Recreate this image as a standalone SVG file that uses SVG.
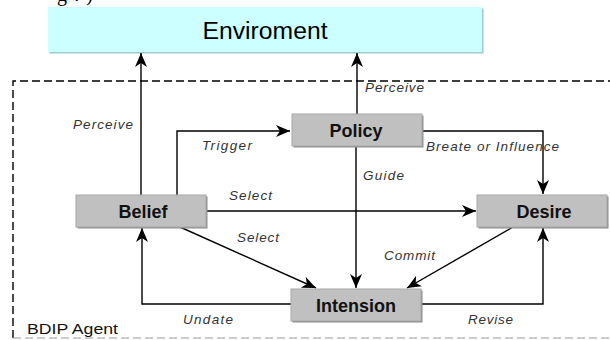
<svg xmlns="http://www.w3.org/2000/svg" width="610" height="340" viewBox="0 0 610 340">
<style>
.box{fill:#c0c0c0;stroke:#a8a8a8;stroke-width:1}
.shadow{fill:#8c8c8c}
.title{font-family:"Liberation Sans",Arial,sans-serif;font-size:18px;font-weight:bold;fill:#111;text-anchor:middle}
.lbl{font-family:"Liberation Sans",Arial,sans-serif;font-size:13.5px;font-style:italic;fill:#333}
.edge{fill:none;stroke:#000;stroke-width:1.4}
</style>
<defs>
<marker id="ah" markerUnits="userSpaceOnUse" markerWidth="16" markerHeight="14" refX="14" refY="6" orient="auto">
<path d="M0,0 L14,6 L0,12 L4,6 Z" fill="#000"/>
</marker>
</defs>
<rect width="610" height="340" fill="#fff"/>
<text x="57" y="1" font-family="Liberation Serif,serif" font-size="20" textLength="36" lengthAdjust="spacing" fill="#000">g.)</text>
<g id="agent">
<path d="M13,338 V81 H612" fill="none" stroke="#000" stroke-width="1.4" stroke-dasharray="8,4"/>
<path d="M13,338 H612" fill="none" stroke="#999" stroke-width="1.2" stroke-dasharray="8,4"/>
<text x="27" y="334" font-family="Liberation Sans,Arial,sans-serif" font-size="14" textLength="91" lengthAdjust="spacingAndGlyphs" fill="#111">BDIP Agent</text>
</g>
<g id="environment">
<rect x="49.5" y="8.5" width="434" height="45" fill="#99cccc"/>
<rect x="48" y="7" width="434" height="45" fill="#ccffff"/>
<text x="265" y="39" font-family="Liberation Sans,Arial,sans-serif" font-size="23" text-anchor="middle" fill="#000" textLength="125" lengthAdjust="spacingAndGlyphs">Enviroment</text>
</g>
<g id="connectors">
<path class="edge" d="M141,195 V53" marker-end="url(#ah)"/>
<path class="edge" d="M357,114 V53" marker-end="url(#ah)"/>
<path class="edge" d="M177,195 V131 H290" marker-end="url(#ah)"/>
<path class="edge" d="M422,131 H543 V194" marker-end="url(#ah)"/>
<path class="edge" d="M356,146 V288" marker-end="url(#ah)"/>
<path class="edge" d="M207,211 H476" marker-end="url(#ah)"/>
<path class="edge" d="M180,227 L316,288" marker-end="url(#ah)"/>
<path class="edge" d="M513,227 L407,288" marker-end="url(#ah)"/>
<path class="edge" d="M291,304 H142 V228" marker-end="url(#ah)"/>
<path class="edge" d="M422,304 H543 V228" marker-end="url(#ah)"/>
<text class="lbl" x="73" y="129" textLength="60" lengthAdjust="spacing">Perceive</text>
<text class="lbl" x="365" y="92" textLength="59" lengthAdjust="spacing">Perceive</text>
<text class="lbl" x="202" y="150" textLength="50" lengthAdjust="spacing">Trigger</text>
<text class="lbl" x="426" y="151" textLength="133" lengthAdjust="spacing">Breate or Influence</text>
<text class="lbl" x="363" y="180" textLength="41" lengthAdjust="spacing">Guide</text>
<text class="lbl" x="229" y="200" textLength="43" lengthAdjust="spacing">Select</text>
<text class="lbl" x="237" y="242" textLength="42" lengthAdjust="spacing">Select</text>
<text class="lbl" x="384" y="260" textLength="51" lengthAdjust="spacing">Commit</text>
<text class="lbl" x="183" y="324" textLength="50" lengthAdjust="spacing">Undate</text>
<text class="lbl" x="468" y="324" textLength="45" lengthAdjust="spacing">Revise</text>
</g>
<g id="policy">
<rect class="shadow" x="293.5" y="115.5" width="130" height="32"/>
<rect class="box" x="292" y="114" width="130" height="32"/>
<text class="title" x="356" y="137">Policy</text>
</g>
<g id="belief">
<rect class="shadow" x="77.5" y="196.5" width="130" height="32"/>
<rect class="box" x="76" y="195" width="130" height="32"/>
<text class="title" x="143" y="218">Belief</text>
</g>
<g id="desire">
<rect class="shadow" x="478.5" y="196.5" width="130" height="32"/>
<rect class="box" x="477" y="195" width="130" height="32"/>
<text class="title" x="544" y="218">Desire</text>
</g>
<g id="intension">
<rect class="shadow" x="292.5" y="290.5" width="130" height="32"/>
<rect class="box" x="291" y="289" width="130" height="32"/>
<text class="title" x="356" y="312">Intension</text>
</g>
</svg>
